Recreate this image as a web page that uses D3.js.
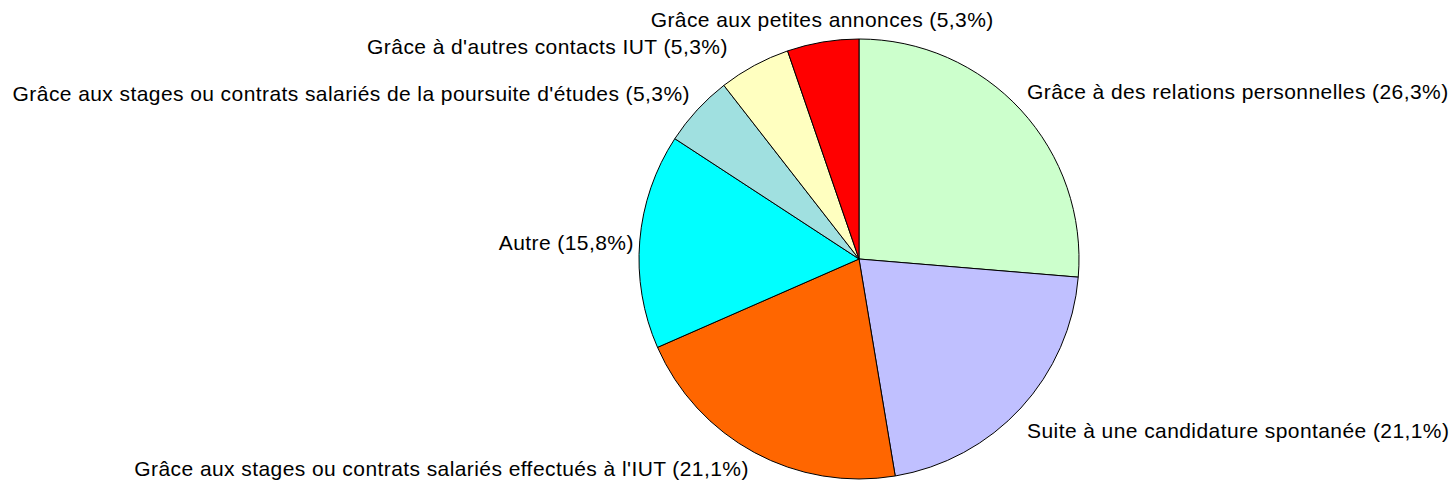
<!DOCTYPE html>
<html>
<head>
<meta charset="utf-8">
<script src="https://cdn.jsdelivr.net/npm/d3@7"></script>
<style>
  body { margin: 0; background: #fff; }
  text { font-family: "Liberation Sans", Arial, sans-serif; font-size: 21px; letter-spacing: 0.42px; fill: #000; }
</style>
</head>
<body>
<svg width="1451" height="485"></svg>
<script>
// data, clockwise from 12 o'clock
const categories = [
  "Grâce à des relations personnelles",
  "Suite à une candidature spontanée",
  "Grâce aux stages ou contrats salariés effectués à l'IUT",
  "Autre",
  "Grâce aux stages ou contrats salariés de la poursuite d'études",
  "Grâce à d'autres contacts IUT",
  "Grâce aux petites annonces"
];
const counts = [5, 4, 4, 3, 1, 1, 1];
const colors = ["#CCFFCC", "#C0C0FF", "#FF6600", "#00FFFF", "#A0E0E0", "#FFFFC0", "#FF0000"];

// small label nudges (px) to follow the original placement
const labelNudgeX = [-10, -10, 5, 16, 9, -16, 3];
const labelNudgeY = [-4, 8, -3, 3, -2, 0, -1];

let svg = d3.select("svg");
let cx = 859, cy = 259, r = 220, labelR = 242;

let total = d3.sum(counts);
let pie = d3.pie().sort(null).value(d => d);
let arc = d3.arc().innerRadius(0).outerRadius(r);
let arcs = pie(counts);

let chart = svg.append("g").attr("transform", "translate(" + cx + "," + cy + ")");

chart.selectAll("path.slice")
  .data(arcs)
  .enter().append("path")
  .attr("class", "slice")
  .attr("d", arc)
  .attr("fill", (d, i) => colors[i])
  .attr("stroke", "#000")
  .attr("stroke-width", 1);

let fmt = v => (Math.round(v * 1000) / 10).toFixed(1).replace(".", ",") + "%";

chart.selectAll("text.label")
  .data(arcs)
  .enter().append("text")
  .attr("class", "label")
  .attr("x", (d, i) => labelR * Math.sin((d.startAngle + d.endAngle) / 2) + labelNudgeX[i])
  .attr("y", (d, i) => -labelR * Math.cos((d.startAngle + d.endAngle) / 2) + labelNudgeY[i])
  .attr("dominant-baseline", "central")
  .attr("text-anchor", d => {
    let s = Math.sin((d.startAngle + d.endAngle) / 2);
    if (Math.abs(s) < 0.3) return "middle";
    return s > 0 ? "start" : "end";
  })
  .text((d, i) => categories[i] + " (" + fmt(d.value / total) + ")");
</script>
</body>
</html>
